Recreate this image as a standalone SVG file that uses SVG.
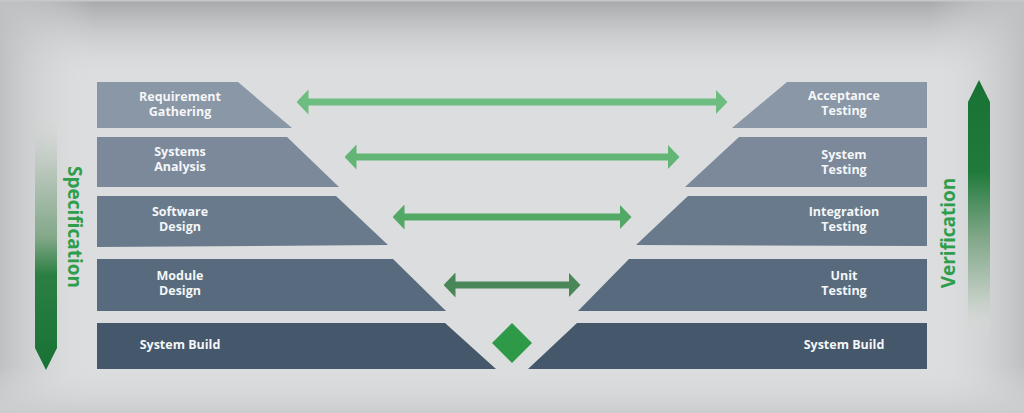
<svg xmlns="http://www.w3.org/2000/svg" width="1024" height="413" viewBox="0 0 1024 413">
  <defs>
    <linearGradient id="bgTop" x1="0" y1="0" x2="0" y2="80" gradientUnits="userSpaceOnUse">
      <stop offset="0" stop-color="#a6a7a9"/>
      <stop offset="1" stop-color="#dcddde" stop-opacity="0"/>
    </linearGradient>
    <linearGradient id="bgLeft" x1="0" y1="0" x2="95" y2="0" gradientUnits="userSpaceOnUse">
      <stop offset="0" stop-color="#bfc0c2"/>
      <stop offset="1" stop-color="#dcddde" stop-opacity="0"/>
    </linearGradient>
    <linearGradient id="bgRight" x1="1024" y1="0" x2="930" y2="0" gradientUnits="userSpaceOnUse">
      <stop offset="0" stop-color="#bfc0c2"/>
      <stop offset="1" stop-color="#dcddde" stop-opacity="0"/>
    </linearGradient>
    <linearGradient id="bgBottom" x1="0" y1="413" x2="0" y2="365" gradientUnits="userSpaceOnUse">
      <stop offset="0" stop-color="#cbcccd"/>
      <stop offset="1" stop-color="#dcddde" stop-opacity="0"/>
    </linearGradient>
    <linearGradient id="specGrad" x1="0" y1="105" x2="0" y2="370" gradientUnits="userSpaceOnUse">
      <stop offset="0" stop-color="#dcddde" stop-opacity="0"/>
      <stop offset="0.25" stop-color="#b9c6bb"/>
      <stop offset="0.5" stop-color="#82a889"/>
      <stop offset="0.64" stop-color="#2c7f43"/>
      <stop offset="1" stop-color="#177234"/>
    </linearGradient>
    <linearGradient id="verGrad" x1="0" y1="80" x2="0" y2="340" gradientUnits="userSpaceOnUse">
      <stop offset="0" stop-color="#177234"/>
      <stop offset="0.35" stop-color="#1f7a3b"/>
      <stop offset="0.6" stop-color="#7fa687"/>
      <stop offset="0.85" stop-color="#c4cfc6"/>
      <stop offset="1" stop-color="#dcddde" stop-opacity="0"/>
    </linearGradient>
    <marker id="h1" viewBox="0 0 12 25" refX="0.5" refY="12.5" markerWidth="12" markerHeight="25" markerUnits="userSpaceOnUse" orient="auto-start-reverse">
      <path d="M0,0 L12,12.5 L0,25 Z" fill="#6cbd7f"/>
    </marker>
    <marker id="h2" viewBox="0 0 12 25" refX="0.5" refY="12.5" markerWidth="12" markerHeight="25" markerUnits="userSpaceOnUse" orient="auto-start-reverse">
      <path d="M0,0 L12,12.5 L0,25 Z" fill="#62b575"/>
    </marker>
    <marker id="h3" viewBox="0 0 12 25" refX="0.5" refY="12.5" markerWidth="12" markerHeight="25" markerUnits="userSpaceOnUse" orient="auto-start-reverse">
      <path d="M0,0 L12,12.5 L0,25 Z" fill="#52a865"/>
    </marker>
    <marker id="h4" viewBox="0 0 12 25" refX="0.5" refY="12.5" markerWidth="12" markerHeight="25" markerUnits="userSpaceOnUse" orient="auto-start-reverse">
      <path d="M0,0 L12,12.5 L0,25 Z" fill="#4a8758"/>
    </marker>
  </defs>
  <style>
    .lbl { font-family: "Open Sans", "Liberation Sans", sans-serif; font-weight: 700; font-size: 12.5px; fill: #f4f6f8; text-anchor: middle; }
    .side { font-family: "Open Sans", "Liberation Sans", sans-serif; font-weight: 700; font-size: 19px; fill: #2f9e4c; text-anchor: middle; }
    .b1 { fill: #8a97a6; }
    .b2 { fill: #7c899a; }
    .b3 { fill: #687a8b; }
    .b4 { fill: #586b7e; }
    .b5 { fill: #45576a; }
    .conn { stroke-width: 7; fill: none; }
  </style>

  <!-- background -->
  <rect x="0" y="0" width="1024" height="413" fill="#dcddde"/>
  <rect x="0" y="0" width="1024" height="80" fill="url(#bgTop)"/>
  <rect x="0" y="0" width="95" height="413" fill="url(#bgLeft)"/>
  <rect x="930" y="0" width="94" height="413" fill="url(#bgRight)"/>
  <rect x="0" y="365" width="1024" height="48" fill="url(#bgBottom)"/>
  <rect x="0" y="0" width="1024" height="1.5" fill="#c6c7c8"/>

  <!-- left (specification) side -->
  <g id="requirement-gathering">
    <polygon class="b1" points="97,82 238,82 292,128 97,128"/>
    <text class="lbl" x="180" y="101">Requirement</text>
    <text class="lbl" x="180" y="116">Gathering</text>
  </g>
  <g id="systems-analysis">
    <polygon class="b2" points="97,137 287,137 339,187 97,187"/>
    <text class="lbl" x="180" y="156">Systems</text>
    <text class="lbl" x="180" y="171">Analysis</text>
  </g>
  <g id="software-design">
    <polygon class="b3" points="97,196 336,196 388,245 97,247"/>
    <text class="lbl" x="180" y="216">Software</text>
    <text class="lbl" x="180" y="231">Design</text>
  </g>
  <g id="module-design">
    <polygon class="b4" points="97,259 393,259 446,311 97,311"/>
    <text class="lbl" x="180" y="280">Module</text>
    <text class="lbl" x="180" y="295">Design</text>
  </g>
  <g id="system-build-left">
    <polygon class="b5" points="97,323 445,323 496,369 97,369"/>
    <text class="lbl" x="180" y="349">System Build</text>
  </g>

  <!-- right (verification) side -->
  <g id="acceptance-testing">
    <polygon class="b1" points="787,82 927,82 927,128 732,128"/>
    <text class="lbl" x="844" y="100">Acceptance</text>
    <text class="lbl" x="844" y="115">Testing</text>
  </g>
  <g id="system-testing">
    <polygon class="b2" points="739,137 927,137 927,187 685,187"/>
    <text class="lbl" x="844" y="159">System</text>
    <text class="lbl" x="844" y="174">Testing</text>
  </g>
  <g id="integration-testing">
    <polygon class="b3" points="688,196 927,196 927,246 636,245"/>
    <text class="lbl" x="844" y="216">Integration</text>
    <text class="lbl" x="844" y="231">Testing</text>
  </g>
  <g id="unit-testing">
    <polygon class="b4" points="629,259 927,259 927,311 578,311"/>
    <text class="lbl" x="844" y="280">Unit</text>
    <text class="lbl" x="844" y="295">Testing</text>
  </g>
  <g id="system-build-right">
    <polygon class="b5" points="577,323 927,323 927,369 528,369"/>
    <text class="lbl" x="844" y="349">System Build</text>
  </g>

  <!-- center diamond -->
  <g id="vertex">
    <polygon points="512,323 532,343 512,363 492,343" fill="#2e9a48"/>
  </g>

  <!-- side arrows -->
  <g id="specification">
    <polygon points="35,105 57,105 57,348 46,370 35,348" fill="url(#specGrad)"/>
    <text class="side" transform="translate(68,227) rotate(90)">Specification</text>
  </g>
  <g id="verification">
    <polygon points="979,80 990,102 990,340 968,340 968,102" fill="url(#verGrad)"/>
    <text class="side" transform="translate(955,233) rotate(-90)">Verification</text>
  </g>

  <!-- connectors -->
  <g id="connectors">
    <line class="conn" x1="308" y1="102" x2="716" y2="102" stroke="#6cbd7f" marker-start="url(#h1)" marker-end="url(#h1)"/>
    <line class="conn" x1="356" y1="157" x2="668" y2="157" stroke="#62b575" marker-start="url(#h2)" marker-end="url(#h2)"/>
    <line class="conn" x1="404" y1="217" x2="620" y2="217" stroke="#52a865" marker-start="url(#h3)" marker-end="url(#h3)"/>
    <line class="conn" x1="455" y1="285" x2="569" y2="285" stroke="#4a8758" marker-start="url(#h4)" marker-end="url(#h4)"/>
  </g>
</svg>
